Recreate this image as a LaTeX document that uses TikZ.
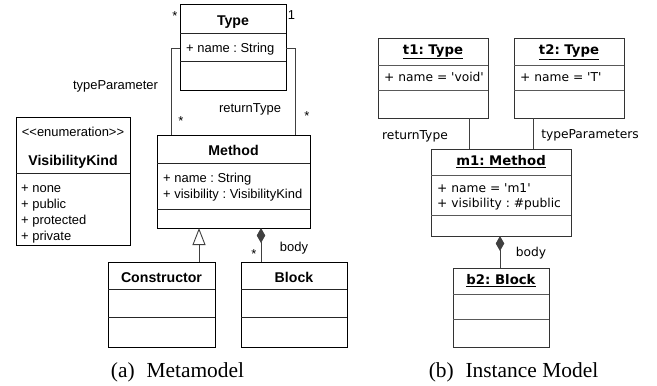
\documentclass[tikz,border=0pt]{standalone}
\usepackage{fontspec}
\setmainfont{Liberation Serif}
\newfontfamily\arialf{Liberation Sans}
\newfontfamily\dejavuf{DejaVu Sans}
\usetikzlibrary{arrows.meta,fit}
\frenchspacing
\begin{document}
\begin{tikzpicture}[x=1bp,y=-1bp,
  lbox/.style={draw=black, line width=0.9bp, inner sep=0pt, outer sep=0pt},
  rbox/.style={draw=black!80, line width=0.9bp, inner sep=0pt, outer sep=0pt},
  ldiv/.style={draw=black!85, line width=0.8bp},
  rdiv/.style={draw=black!65, line width=0.8bp},
  conn/.style={draw=black!75, line width=0.9bp},
  ltxt/.style={inner sep=0pt, font=\arialf\fontsize{13}{15}\selectfont, text height=9.3bp, text depth=0pt},
  ltitle/.style={inner sep=0pt, font=\arialf\bfseries\fontsize{14.2}{16}\selectfont, text height=10.2bp, text depth=0pt},
  rtxt/.style={inner sep=0pt, font=\dejavuf\fontsize{12.3}{14}\selectfont, text height=9bp, text depth=0pt},
  rtitle/.style={inner sep=0pt, font=\dejavuf\bfseries\fontsize{13.3}{15}\selectfont},
  captxt/.style={inner sep=0pt, anchor=base, font=\fontsize{21.5}{25}\selectfont},
  inh/.style={conn, -{Triangle[open, length=17bp, width=13bp]}},
  comp/.style={conn, {Diamond[length=15bp, width=8.5bp]}-},
]
\useasboundingbox (0,0) rectangle (657,385);

% ---------------- (a) Metamodel ----------------
\node[lbox, fit={(180,4)(286,90)}] (type) {};
\draw[ldiv] (type.west |- 0,33) -- (type.east |- 0,33);
\draw[ldiv] (type.west |- 0,61) -- (type.east |- 0,61);
\node[ltitle] (typet) at (233,20.5) {Type};
\node[ltxt, anchor=west] (typea) at (186,48) {+ name : String};

\node[lbox, fit={(157,135)(310,228)}] (method) {};
\draw[ldiv] (method.west |- 0,163) -- (method.east |- 0,163);
\draw[ldiv] (method.west |- 0,209) -- (method.east |- 0,209);
\node[ltitle] (methodt) at (233.5,150) {Method};
\node[ltxt, anchor=west] (methoda1) at (163,178) {+ name : String};
\node[ltxt, anchor=west] (methoda2) at (163,194) {+ visibility : VisibilityKind};

\node[lbox, fit={(16,117)(130,245)}] (vis) {};
\draw[ldiv] (vis.west |- 0,173) -- (vis.east |- 0,173);
\node[ltxt] (visst) at (73,132) {<{}<enumeration>{}>};
\node[ltitle] (vist) at (73,160) {VisibilityKind};
\node[ltxt, anchor=west] (visa1) at (21,188) {+ none};
\node[ltxt, anchor=west] (visa2) at (21,204) {+ public};
\node[ltxt, anchor=west] (visa3) at (21,220) {+ protected};
\node[ltxt, anchor=west] (visa4) at (21,236) {+ private};

\node[lbox, fit={(108,262)(215,347)}] (cons) {};
\draw[ldiv] (cons.west |- 0,289) -- (cons.east |- 0,289);
\draw[ldiv] (cons.west |- 0,317) -- (cons.east |- 0,317);
\node[ltitle] (const) at (161.5,277) {Constructor};

\node[lbox, fit={(241,262)(347,347)}] (block) {};
\draw[ldiv] (block.west |- 0,289) -- (block.east |- 0,289);
\draw[ldiv] (block.west |- 0,317) -- (block.east |- 0,317);
\node[ltitle] (blockt) at (294,277) {Block};

% connectors (a)
\draw[conn] (type.west |- 0,48) -- ++(-9,0) coordinate (tpc) -- (tpc |- method.north);
\draw[conn] (type.east |- 0,48) -- ++(9,0) coordinate (rtc) -- (rtc |- method.north);
\coordinate (gx) at (199,0);
\draw[inh] (cons.north -| gx) -- (method.south -| gx);
\coordinate (bx) at (261,0);
\draw[comp] (method.south -| bx) -- (block.north -| bx);

\node[ltxt] (m1s) at (175,15.5) {*};
\node[ltxt] (m1o) at (291.5,15) {1};
\node[ltxt] (ltp) at (115.5,84.5) {typeParameter};
\node[ltxt] (lrt) at (250,108) {returnType};
\node[ltxt] (m2s) at (181,120.5) {*};
\node[ltxt] (m3s) at (307,116) {*};
\node[ltxt] (m4s) at (254,254) {*};
\node[ltxt] (lbody) at (294,247) {body};

\node[captxt] (capa) at (177.5,377.5) {(a)\hspace{0.3em} Metamodel};

% ---------------- (b) Instance Model ----------------
\node[rbox, fit={(378,38)(488,118)}] (t1) {};
\draw[rdiv] (t1.west |- 0,65) -- (t1.east |- 0,65);
\draw[rdiv] (t1.west |- 0,90) -- (t1.east |- 0,90);
\node[rtitle] (t1t) at (433,52) {\underline{t1: Type}};
\node[rtxt, anchor=west] (t1a) at (384,77) {+ name = \textquotesingle void\textquotesingle};

\node[rbox, fit={(514,38)(624,118)}] (t2) {};
\draw[rdiv] (t2.west |- 0,65) -- (t2.east |- 0,65);
\draw[rdiv] (t2.west |- 0,90) -- (t2.east |- 0,90);
\node[rtitle] (t2t) at (569,52) {\underline{t2: Type}};
\node[rtxt, anchor=west] (t2a) at (520,77) {+ name = \textquotesingle T\textquotesingle};

\node[rbox, fit={(431,149)(571,236)}] (m1) {};
\draw[rdiv] (m1.west |- 0,175) -- (m1.east |- 0,175);
\draw[rdiv] (m1.west |- 0,215) -- (m1.east |- 0,215);
\node[rtitle] (m1t) at (501,162) {\underline{m1: Method}};
\node[rtxt, anchor=west] (m1a1) at (437,188) {+ name = \textquotesingle m1\textquotesingle};
\node[rtxt, anchor=west] (m1a2) at (437,203) {+ visibility : \#public};

\node[rbox, fit={(453,268)(549,347)}] (b2) {};
\draw[rdiv] (b2.west |- 0,294) -- (b2.east |- 0,294);
\draw[rdiv] (b2.west |- 0,319) -- (b2.east |- 0,319);
\node[rtitle] (b2t) at (501,281) {\underline{b2: Block}};

\coordinate (r1x) at (469,0);
\coordinate (r2x) at (533,0);
\coordinate (r3x) at (500,0);
\draw[conn] (t1.south -| r1x) -- (m1.north -| r1x);
\draw[conn] (t2.south -| r2x) -- (m1.north -| r2x);
\draw[comp] (m1.south -| r3x) -- (b2.north -| r3x);

\node[rtxt] (rrt) at (415,135) {returnType};
\node[rtxt] (rtp) at (590,134) {typeParameters};
\node[rtxt] (rbody) at (531,252) {body};

\node[captxt] (capb) at (513.5,377.5) {(b)\hspace{0.3em} Instance Model};
\end{tikzpicture}
\end{document}
